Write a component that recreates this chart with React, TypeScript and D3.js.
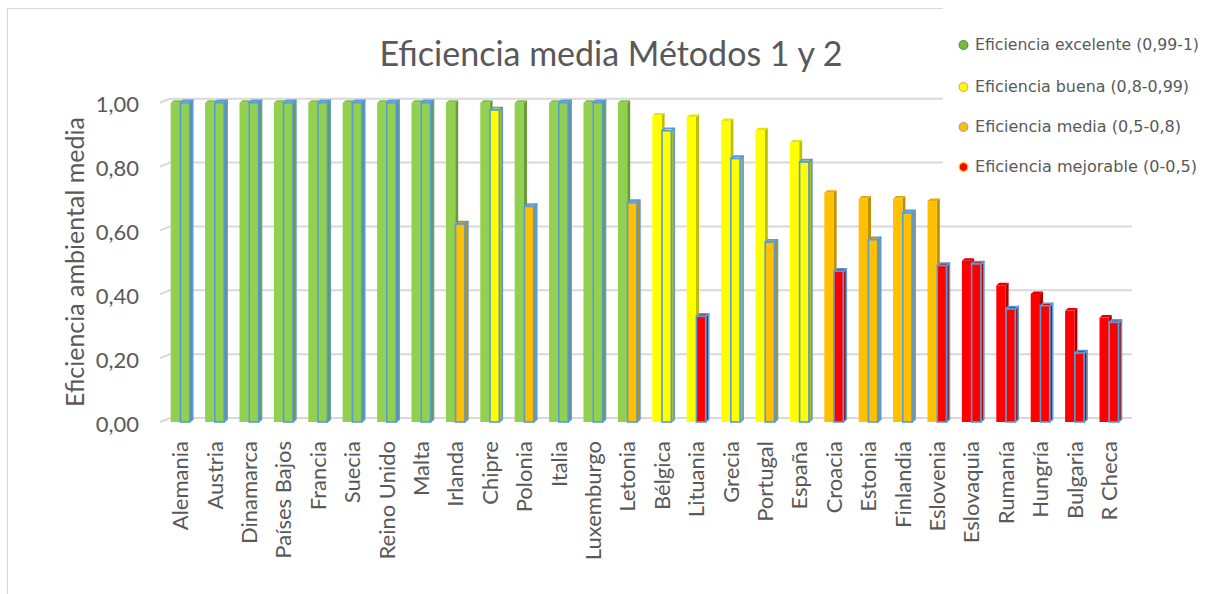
import React from "react";
import * as d3 from "d3";

const countries = ["Alemania","Austria","Dinamarca","Países Bajos","Francia","Suecia","Reino Unido","Malta","Irlanda","Chipre","Polonia","Italia","Luxemburgo","Letonia","Bélgica","Lituania","Grecia","Portugal","España","Croacia","Estonia","Finlandia","Eslovenia","Eslovaquia","Rumanía","Hungría","Bulgaria","R Checa"];
const metodo1 = [1,1,1,1,1,1,1,1,1,1,1,1,1,1,0.96,0.955,0.943,0.914,0.875,0.718,0.70,0.70,0.692,0.505,0.428,0.401,0.349,0.327];
const metodo2 = [1,1,1,1,1,1,1,1,0.62,0.977,0.675,1,1,0.687,0.912,0.331,0.825,0.563,0.814,0.472,0.571,0.655,0.49,0.495,0.354,0.364,0.216,0.312];
const clase1 = ["exc","exc","exc","exc","exc","exc","exc","exc","exc","exc","exc","exc","exc","exc","buena","buena","buena","buena","buena","media","media","media","media","mej","mej","mej","mej","mej"];
const clase2 = ["exc","exc","exc","exc","exc","exc","exc","exc","media","buena","media","exc","exc","media","buena","mej","buena","media","buena","mej","media","media","mej","mej","mej","mej","mej","mej"];
const yTicks = [0,0.2,0.4,0.6,0.8,1];
const legendKeys = ["exc","buena","media","mej"];
const legendLabels = ["Eficiencia excelente (0,99-1)","Eficiencia buena (0,8-0,99)","Eficiencia media (0,5-0,8)","Eficiencia mejorable (0-0,5)"];

const front: Record<string,string> = { exc: "#92D050", buena: "#FFFF00", media: "#FFC000", mej: "#FF0000" };
const side: Record<string,string> = { exc: "#6B9A38", buena: "#BFBF00", media: "#BF9000", mej: "#B00000" };
const topC: Record<string,string> = { exc: "#84BE45", buena: "#E6E600", media: "#E6AD00", mej: "#E00000" };
const legFill: Record<string,string> = { exc: "#74B845", buena: "#FFFF00", media: "#FFC000", mej: "#FF0000" };
const legStroke: Record<string,string> = { exc: "#5A9A35", buena: "#F4A460", media: "#A5A5A5", mej: "#FFC000" };

const FONT = "Lato, 'Open Sans', sans-serif";
const GRAY = "#595959";

export default function App() {
  const W = 1213, H = 594;
  const x = d3.scaleBand<string>().domain(countries).range([163.2, 1126.4]).paddingInner(0.436).paddingOuter(0.218);
  const sub = d3.scaleBand<string>().domain(["m1","m2"]).range([0, x.bandwidth()]);
  const y = d3.scaleLinear().domain([0, 1]).range([422, 102.7]);
  const back = 4; // back wall offset
  const dx = 3, dy = 2.5;
  const fmt = (v: number) => d3.format(".2f")(v).replace(".", ",");

  const bar = (cx: number, v: number, cls: string, outlined: boolean, key: string) => {
    const w = sub.bandwidth() - 0.4;
    const yt = y(v), yb = y(0);
    const sidePts = [[cx + w, yt],[cx + w + dx, yt - dy],[cx + w + dx, yb - dy],[cx + w, yb]];
    const topPts = [[cx, yt],[cx + dx, yt - dy],[cx + w + dx, yt - dy],[cx + w, yt]];
    const st = outlined ? "#5B9BD5" : "none";
    const sw = outlined ? 1.6 : 0;
    return (
      <g key={key}>
        <polygon points={sidePts.map(p => p.join(",")).join(" ")} fill={side[cls]} stroke={st} strokeWidth={sw} strokeLinejoin="round" />
        <polygon points={topPts.map(p => p.join(",")).join(" ")} fill={topC[cls]} stroke={st} strokeWidth={sw} strokeLinejoin="round" />
        <rect x={cx} y={yt} width={w} height={yb - yt} fill={front[cls]} stroke={st} strokeWidth={sw} />
      </g>
    );
  };

  return (
    <svg width={W} height={H} style={{ display: "block", position: "absolute", left: 0, top: 0 }}>
      <rect x={0} y={0} width={W} height={H} fill="#fff" />
      <line x1={7.5} y1={8} x2={7.5} y2={H} stroke="#D9D9D9" strokeWidth={1.2} />
      <line x1={7} y1={8.5} x2={943} y2={8.5} stroke="#D9D9D9" strokeWidth={1.2} />
      <text x={611} y={66} textAnchor="middle" fontFamily={FONT} fontSize={34} fill={GRAY}>Eficiencia media Métodos 1 y 2</text>
      {yTicks.map(t => (
        <g key={"g" + t}>
          <line x1={170} x2={1132} y1={y(t) - back} y2={y(t) - back} stroke="#D9D9D9" strokeWidth={2} />
          <line x1={160} x2={170} y1={y(t)} y2={y(t) - back} stroke="#D9D9D9" strokeWidth={2} />
          <text x={139} y={y(t) + 4} textAnchor="end" dominantBaseline="middle" fontFamily={FONT} fontSize={22} fill={GRAY}>{fmt(t)}</text>
        </g>
      ))}
      <rect x={943} y={0} width={W - 943} height={200} fill="#fff" />
      <text transform={`translate(84,262) rotate(-90)`} textAnchor="middle" fontFamily={FONT} fontSize={25} fill={GRAY}>Eficiencia ambiental media</text>
      {countries.map((c, i) => {
        const bx = x(c)!;
        return (
          <g key={c}>
            {bar(bx + sub("m1")!, metodo1[i], clase1[i], false, c + "1")}
            {bar(bx + sub("m2")!, metodo2[i], clase2[i], true, c + "2")}
            <text transform={`translate(${bx + x.bandwidth() / 2},441) rotate(-90)`} textAnchor="end" dy="0.35em" fontFamily={FONT} fontSize={22} fill={GRAY}>{c}</text>
          </g>
        );
      })}
      {legendKeys.map((k, i) => {
        const ly = [45, 87, 127, 167][i];
        return (
          <g key={k}>
            <circle cx={963.5} cy={ly} r={4.3} fill={legFill[k]} stroke={legStroke[k]} strokeWidth={1.3} />
            <text x={975} y={ly} dominantBaseline="middle" fontFamily="'DejaVu Sans Condensed', 'DejaVu Sans', sans-serif" fontSize={16} fill={GRAY} textLength={[224, 214, 206, 222][i]} lengthAdjust="spacingAndGlyphs">{legendLabels[i]}</text>
          </g>
        );
      })}
    </svg>
  );
}
